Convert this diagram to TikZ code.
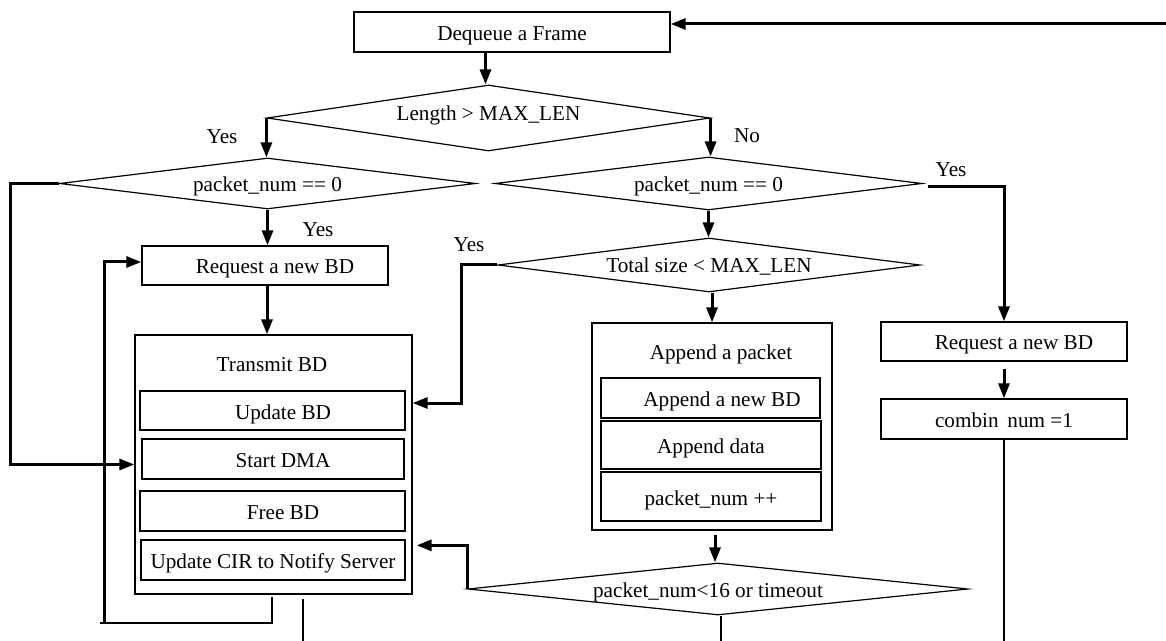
\documentclass[tikz,border=0pt]{standalone}
\usepackage{fontspec}
\setmainfont{Liberation Serif}
\usetikzlibrary{shapes.geometric,arrows.meta,calc}
\begin{document}
\begin{tikzpicture}[x=0.5pt,y=-0.5pt,
  every node/.style={font=\fontsize{10.6pt}{12pt}\selectfont, text height=9pt, text depth=0.5pt},
  box/.style={draw, line width=0.65pt, rectangle, inner sep=0pt},
  dec/.style={draw, line width=0.6pt, diamond, inner sep=0pt},
  flow/.style={line width=1.5pt, -{Triangle[length=7.5pt,width=5.5pt]}},
  thinline/.style={line width=0.55pt},
  lbl/.style={inner sep=0pt}
]
\useasboundingbox (0,0) rectangle (1166,641);

% boxes
\node[box, minimum width=158pt, minimum height=20pt] (deq) at (512,32) {Dequeue a Frame};
\node[box, minimum width=123pt, minimum height=19.5pt] (req1) at (265,265.5) {\hspace*{10pt}Request a new BD};
\node[box, minimum width=138.5pt, minimum height=129.5pt] (tx) at (273.5,464.5) {};
\node[lbl] (txt) at (272,363) {Transmit BD};
\node[box, minimum width=132.5pt, minimum height=19.5pt] (updbd) at (272.5,410.5) {\hspace*{10.5pt}Update BD};
\node[box, minimum width=131pt, minimum height=20pt] (dma) at (273,459) {\hspace*{10pt}Start DMA};
\node[box, minimum width=132.5pt, minimum height=20pt] (free) at (272.5,511) {\hspace*{10.5pt}Free BD};
\node[box, minimum width=132pt, minimum height=20pt] (updcir) at (273,560) {Update CIR to Notify Server};

\node[box, minimum width=120pt, minimum height=103.5pt] (app) at (712,426.5) {};
\node[lbl] (appt) at (721,351) {Append a packet};
\node[box, minimum width=109.5pt, minimum height=20pt] (appbd) at (710.5,398) {\hspace*{11.5pt}Append a new BD};
\node[box, minimum width=110pt, minimum height=24pt] (appdata) at (711,445) {Append data};
\node[box, minimum width=110pt, minimum height=24.5pt] (pkt) at (711,496.5) {packet\_num ++};

\node[box, minimum width=123pt, minimum height=19.5pt] (req2) at (1004,341.5) {\hspace*{10pt}Request a new BD};
\node[box, minimum width=123pt, minimum height=20pt] (comb) at (1004,419) {combin~\,num =1};

% decisions
\node[dec, shape aspect=6.7, minimum width=221.5pt, minimum height=33pt, text height=5pt, text depth=2pt] (d1) at (488.5,118) {Length > MAX\_LEN};
\node[dec, shape aspect=8.2, minimum width=208pt, minimum height=25.5pt] (d2) at (267.5,183.5) {packet\_num == 0};
\node[dec, shape aspect=8, minimum width=213.5pt, minimum height=26.5pt] (d3) at (708.5,183.5) {packet\_num == 0};
\node[dec, shape aspect=7.8, minimum width=211pt, minimum height=27pt, text height=8pt] (d4) at (709,265) {Total size < MAX\_LEN};
\node[dec, shape aspect=9.6, minimum width=250pt, minimum height=26pt] (d5) at (718,589) {\hspace*{-10pt}packet\_num<16 or timeout};

% labels
\node[lbl] (y1) at (222,135) {Yes};
\node[lbl] (n1) at (747,134) {No};
\node[lbl] (y2) at (318,228) {Yes};
\node[lbl] (y3) at (469,243) {Yes};
\node[lbl] (y4) at (951,168) {Yes};

% free-end coordinates
\coordinate (inTop) at (1166,24);
\coordinate (loopR) at (272,623);
\coordinate (loopL) at (100,623);
\coordinate (loopV) at (104,623);
\coordinate (outA) at (303,641);
\coordinate (outB) at (721,641);
\coordinate (outC) at (1004,641);

% connectors
\draw[flow] (inTop) -- (deq.east |- inTop);
\draw[flow] ($(d1.north |- deq.south)+(-3,0)$) -- ($(d1.north)+(-3,0)$);
\draw[flow] (d1.west) -- (d1.west |- d2.north);
\draw[flow] (d1.east) -- (d1.east |- d3.north);
\draw[flow] (d2.west) -- ++(-48,0) |- (tx.west);
\draw[flow] (d2.south) -- (d2.south |- req1.north);
\draw[flow] ($(req1.south)+(2,0)$) -- ($(req1.south |- tx.north)+(2,0)$);
\draw[thinline] ($(tx.south)+(-1.5,2)$) -- (loopR) -- (loopL);
\draw[flow] (loopV) |- ($(req1.west)+(0,-3.5)$);
\draw[thinline] (outA |- tx.south) ++(0,4) -- (outA);

\draw[flow] (d3.south) -- (d3.south |- d4.north);
\draw[flow] ([xshift=2.5pt,yshift=-1.5pt]d3.east) -| (req2.north);
\draw[flow] (d4.west) -- ++(-36,0) |- ($(tx.east |- updbd.center)+(0,-7.5)$);
\draw[flow] ($(d4.south)+(3,0)$) -- ($(d4.south |- app.north)+(3,0)$);
\draw[flow] ($(d5.north |- app.south)+(-3,4)$) -- ($(d5.north)+(-3,0)$);
\draw[flow] (d5.west) |- ($(updcir.north east)+(11,6)$);
\draw[thinline] ($(d5.south)+(3,0)$) -- (outB);

\draw[flow] ([yshift=-3.5pt]req2.south) -- (comb.north);
\draw[thinline] (comb.south) -- (outC);
\end{tikzpicture}
\end{document}
